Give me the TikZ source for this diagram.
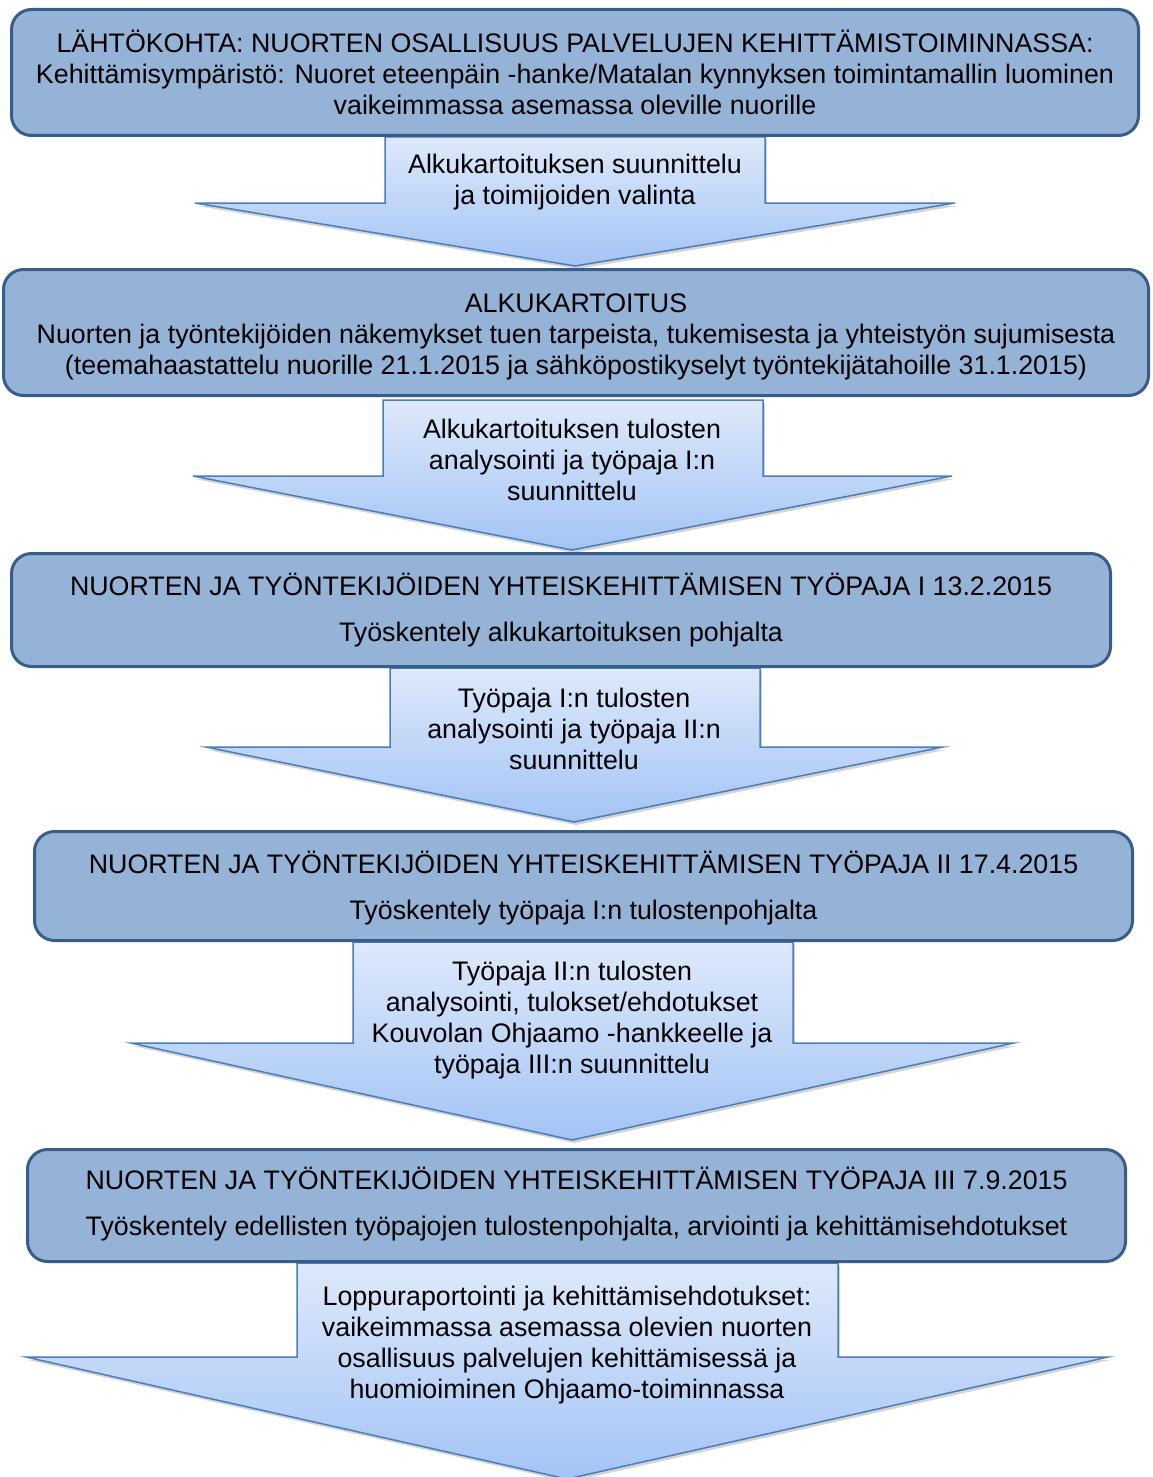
\documentclass[tikz,border=0pt]{standalone}
\usepackage{fontspec}
\setmainfont{Liberation Sans}
\usetikzlibrary{shadows}

\definecolor{laatikkovari}{RGB}{149,179,215}
\definecolor{reunavari}{RGB}{56,93,138}
\definecolor{nuolireuna}{RGB}{74,126,187}
\definecolor{nuoliyla}{RGB}{222,233,251}
\definecolor{nuoliala}{RGB}{163,196,245}

\tikzset{
  laatikko/.style={draw=reunavari, line width=3pt, fill=laatikkovari, rounded corners=20pt},
  nuoli/.style={draw=nuolireuna, line width=1.5pt, top color=nuoliyla, bottom color=nuoliala,
    drop shadow={opacity=0.35, shadow xshift=2pt, shadow yshift=-3pt}},
  teksti/.style={align=center, font=\fontsize{26.8}{31}\selectfont, inner sep=0pt, anchor=base},
}

\begin{document}
\begin{tikzpicture}[x=1pt, y=-1pt]
\useasboundingbox (0,0) rectangle (1153,1477);
% Nuolet
\draw[nuoli] (385,137) -- (765,137) -- (765,203) -- (955,203) -- (575,266)
  -- (195,203) -- (385,203) -- cycle;
\draw[nuoli] (383,400) -- (763,400) -- (763,476) -- (952,476) -- (572,550)
  -- (193,476) -- (383,476) -- cycle;
\draw[nuoli] (390,668) -- (760,668) -- (760,747) -- (943,747) -- (574,822)
  -- (206,747) -- (390,747) -- cycle;
\draw[nuoli] (353,942) -- (793,942) -- (793,1043) -- (1014,1043) -- (572,1140)
  -- (131,1043) -- (353,1043) -- cycle;
\draw[nuoli] (297,1263) -- (838,1263) -- (838,1357) -- (1108,1357) -- (567,1479)
  -- (26,1357) -- (297,1357) -- cycle;
% Nuolten tekstit (viimeisen rivin perusviiva)
\node[teksti] (v1) at (575,204) {Alkukartoituksen suunnittelu\\ja toimijoiden valinta};
\node[teksti] (v2) at (572,500) {Alkukartoituksen tulosten\\analysointi ja työpaja I:n\\suunnittelu};
\node[teksti] (v3) at (574,769) {Työpaja I:n tulosten\\analysointi ja työpaja II:n\\suunnittelu};
\node[teksti] (v4) at (572,1073) {Työpaja II:n tulosten\\analysointi, tulokset/ehdotukset\\Kouvolan Ohjaamo -hankkeelle ja\\työpaja III:n suunnittelu};
\node[teksti] (v5) at (567,1398) {Loppuraportointi ja kehittämisehdotukset:\\vaikeimmassa asemassa olevien nuorten\\osallisuus palvelujen kehittämisessä ja\\huomioiminen Ohjaamo-toiminnassa};
% Laatikot
\node[laatikko, minimum width=1127pt, minimum height=126pt] (lahto) at (575,72.5) {};
\node[laatikko, minimum width=1145pt, minimum height=126pt] (alku) at (576,332.5) {};
\node[laatikko, minimum width=1099pt, minimum height=113pt] (tp1) at (561,610) {};
\node[laatikko, minimum width=1098pt, minimum height=109pt] (tp2) at (583.5,886) {};
\node[laatikko, minimum width=1098pt, minimum height=112pt] (tp3) at (576.5,1205.5) {};
% Laatikoiden tekstit
\node[teksti] (lahtoteksti) at (575,114)
  {LÄHTÖKOHTA: NUORTEN OSALLISUUS PALVELUJEN KEHITTÄMISTOIMINNASSA:\\Kehittämisympäristö: Nuoret eteenpäin -hanke/Matalan kynnyksen toimintamallin luominen\\vaikeimmassa asemassa oleville nuorille};
\node[teksti] (alkuteksti) at (576,374)
  {ALKUKARTOITUS\\Nuorten ja työntekijöiden näkemykset tuen tarpeista, tukemisesta ja yhteistyön sujumisesta\\(teemahaastattelu nuorille 21.1.2015 ja sähköpostikyselyt työntekijätahoille 31.1.2015)};
\node[teksti] (tp1teksti) at (561,641)
  {NUORTEN JA TYÖNTEKIJÖIDEN YHTEISKEHITTÄMISEN TYÖPAJA I 13.2.2015\\[15pt]Työskentely alkukartoituksen pohjalta};
\node[teksti] (tp2teksti) at (583.5,919)
  {NUORTEN JA TYÖNTEKIJÖIDEN YHTEISKEHITTÄMISEN TYÖPAJA II 17.4.2015\\[15pt]Työskentely työpaja I:n tulostenpohjalta};
\node[teksti] (tp3teksti) at (576.5,1235)
  {NUORTEN JA TYÖNTEKIJÖIDEN YHTEISKEHITTÄMISEN TYÖPAJA III 7.9.2015\\[15pt]Työskentely edellisten työpajojen tulostenpohjalta, arviointi ja kehittämisehdotukset};
\end{tikzpicture}
\end{document}
